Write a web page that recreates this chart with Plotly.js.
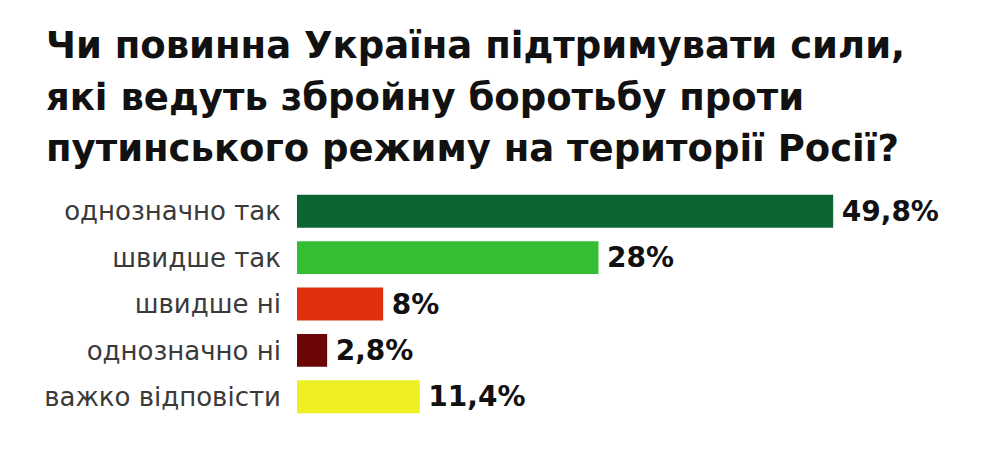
<!DOCTYPE html>
<html><head><meta charset="utf-8">
<script src="https://cdn.plot.ly/plotly-3.0.1.min.js"></script>
<style>html,body{margin:0;padding:0;background:#fff;}#chart{width:1008px;height:452px;}</style>
</head><body><div id="chart"></div>
<script>
const titleLines = [
  "Чи повинна Україна підтримувати сили,",
  "які ведуть збройну боротьбу проти",
  "путинського режиму на території Росії?"
];
const categories = ["однозначно так", "швидше так", "швидше ні", "однозначно ні", "важко відповісти"];
const values = [49.8, 28, 8, 2.8, 11.4];
const colors = ["#0b6633", "#33be33", "#e0300f", "#6a0606", "#eef024"];

const W = 1008, H = 452;
const mL = 297, mR = 65, mT = 188, mB = 32;
const plotW = W - mL - mR, plotH = H - mT - mB;

const labels = values.map(v => String(v).replace('.', ',') + '%');

const trace = {
  type: 'bar', orientation: 'h',
  y: categories, x: values,
  marker: {color: colors, line: {width: 0}},
  width: 0.71,
  text: labels,
  texttemplate: '\u2009%{text}',
  textposition: 'outside',
  cliponaxis: false,
  constraintext: 'none',
  textfont: {family: 'DejaVu Sans', size: 28, color: '#111', weight: 700},
  hoverinfo: 'skip'
};

const titleY = [45, 97, 148];
const annotations = titleLines.map((t, i) => ({
  text: t, xref: 'paper', yref: 'paper',
  x: (44 - mL) / plotW, xanchor: 'left',
  y: (H - mB - titleY[i]) / plotH, yanchor: 'middle',
  showarrow: false,
  font: {family: 'DejaVu Sans', size: 37, color: '#111', weight: 700}
}));

const layout = {
  width: W, height: H,
  margin: {l: mL, r: mR, t: mT, b: mB, pad: 0},
  paper_bgcolor: '#fff', plot_bgcolor: '#fff',
  showlegend: false,
  bargap: 0.29,
  xaxis: {range: [0, 60], visible: false, fixedrange: true},
  yaxis: {
    type: 'category', autorange: 'reversed',
    showgrid: false, zeroline: false, showline: false, ticks: '',
    ticklabelstandoff: 15,
    tickfont: {family: 'DejaVu Sans', size: 26, color: '#3a3a3a'}
  },
  annotations: annotations
};

Plotly.newPlot('chart', [trace], layout, {displayModeBar: false, staticPlot: true});
</script></body></html>
